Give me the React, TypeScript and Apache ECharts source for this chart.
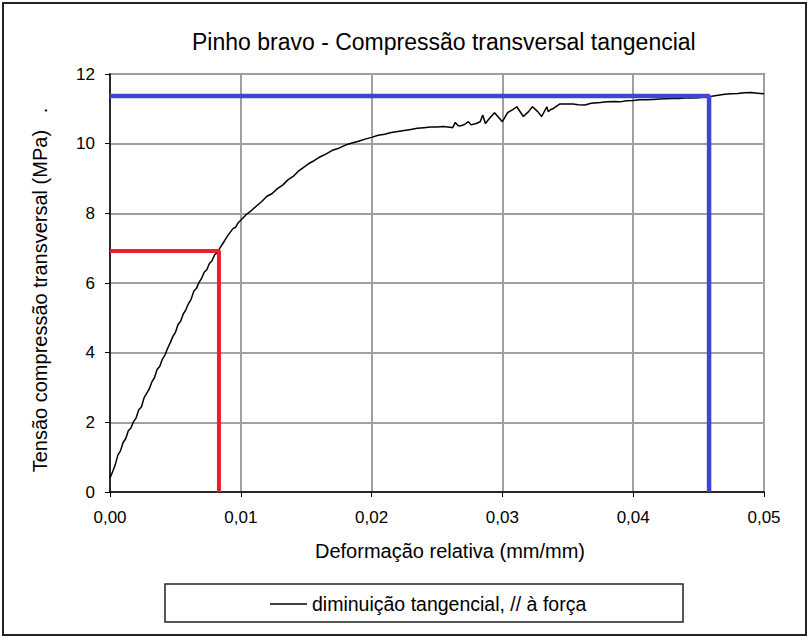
import React, { useEffect, useRef } from "react";
import * as echarts from "echarts";

const strain = [
  0.0, 0.0002, 0.0004, 0.0006, 0.0008, 0.001, 0.0012, 0.0014, 0.0016, 0.0018,
  0.002, 0.0022, 0.0024, 0.0026, 0.0028, 0.003, 0.0032, 0.0034, 0.0036, 0.0038,
  0.004, 0.0042, 0.0044, 0.0046, 0.0048, 0.005, 0.0052, 0.0054, 0.0056, 0.0058,
  0.006, 0.0062, 0.0064, 0.0066, 0.0068, 0.007, 0.0072, 0.0074, 0.0076, 0.0078,
  0.008, 0.0082, 0.0084, 0.0086, 0.0088, 0.009, 0.0092, 0.0094, 0.0096, 0.0098,
  0.01, 0.0104, 0.0108, 0.0112, 0.0116, 0.012, 0.0124, 0.0128, 0.0132, 0.0136,
  0.014, 0.0144, 0.0148, 0.0152, 0.0156, 0.016, 0.0165, 0.017, 0.0175, 0.018,
  0.0185, 0.019, 0.0195, 0.02, 0.0205, 0.021, 0.0215, 0.022, 0.0225, 0.023,
  0.0235, 0.024, 0.0245, 0.025, 0.0255, 0.026, 0.0262, 0.0264, 0.0266, 0.0268,
  0.0271, 0.0274, 0.0276, 0.028, 0.0283, 0.0285, 0.0287, 0.029, 0.0294, 0.0297,
  0.03, 0.0304, 0.0308, 0.0311, 0.0316, 0.032, 0.0323, 0.0327, 0.033, 0.0334,
  0.0335, 0.0337, 0.0339, 0.0344, 0.035, 0.0354, 0.0358, 0.0363, 0.0368, 0.0375,
  0.038, 0.0385, 0.039, 0.0395, 0.04, 0.0405, 0.041, 0.0415, 0.042, 0.0425,
  0.043, 0.0435, 0.044, 0.0445, 0.045, 0.0455, 0.046, 0.0465, 0.047, 0.0475,
  0.048, 0.0485, 0.049, 0.0495, 0.05,
];

const stress = [
  0.4, 0.58, 0.78, 1.06, 1.18, 1.42, 1.53, 1.76, 1.84, 2.02,
  2.13, 2.36, 2.44, 2.7, 2.83, 2.96, 3.16, 3.28, 3.52, 3.6,
  3.81, 3.93, 4.12, 4.28, 4.46, 4.58, 4.81, 4.9, 5.11, 5.23,
  5.41, 5.53, 5.76, 5.84, 6.01, 6.13, 6.31, 6.38, 6.56, 6.64,
  6.81, 6.87, 7.0, 7.12, 7.24, 7.36, 7.46, 7.56, 7.6, 7.73,
  7.8, 7.96, 8.08, 8.21, 8.34, 8.49, 8.57, 8.71, 8.81, 8.96,
  9.06, 9.21, 9.32, 9.43, 9.51, 9.61, 9.7, 9.81, 9.87, 9.96,
  10.02, 10.07, 10.13, 10.18, 10.24, 10.27, 10.32, 10.35, 10.38, 10.41,
  10.44, 10.46, 10.48, 10.48, 10.49, 10.47, 10.46, 10.61, 10.52, 10.51,
  10.55, 10.63, 10.54, 10.58, 10.63, 10.82, 10.58, 10.72, 10.89, 10.76,
  10.63, 10.89, 10.98, 11.06, 10.78, 10.92, 11.06, 10.92, 10.78, 11.06,
  10.92, 10.98, 11.01, 11.14, 11.14, 11.14, 11.12, 11.11, 11.16, 11.18,
  11.2, 11.21, 11.2, 11.23, 11.24, 11.26, 11.26, 11.27, 11.28, 11.29,
  11.3, 11.3, 11.31, 11.31, 11.32, 11.34, 11.36, 11.39, 11.42, 11.43,
  11.44, 11.46, 11.47, 11.45, 11.43,
];

const redX = [0, 0.00833, 0.00833];
const redY = [6.92, 6.92, 0];
const blueX = [0, 0.0458, 0.0458];
const blueY = [11.37, 11.37, 0];

const seriesName = "diminuição tangencial, // à força";
const titleText = "Pinho bravo - Compressão transversal tangencial";
const xName = "Deformação relativa (mm/mm)";
const yName = "Tensão compressão transversal (MPa)   .";

const FONT = "Liberation Sans, Arial, sans-serif";

export default function App() {
  const ref = useRef<HTMLDivElement>(null);
  useEffect(() => {
    if (!ref.current) return;
    const chart = echarts.init(ref.current, undefined, { renderer: "svg" });
    const zip = (xs: number[], ys: number[]) => xs.map((x, i) => [x, ys[i]]);
    chart.setOption({
      animation: false,
      backgroundColor: "#fff",
      textStyle: { fontFamily: FONT },
      title: {
        text: titleText,
        left: 187,
        top: 25,
        textStyle: { fontSize: 23, fontWeight: "normal", color: "#000", fontFamily: FONT },
      },
      grid: { left: 110, right: 47, top: 74, bottom: 150, show: true, borderColor: "#000", borderWidth: 1.5 },
      legend: {
        data: [seriesName],
        left: 265,
        top: 589,
        icon: "rect",
        itemWidth: 37,
        itemHeight: 1.5,
        textStyle: { fontSize: 19.5, color: "#000", fontFamily: FONT },
      },
      graphic: [
        {
          type: "rect",
          shape: { x: 3, y: 3, width: 803, height: 632 },
          style: { fill: "none", stroke: "#222", lineWidth: 2 },
          silent: true,
        },
        {
          type: "rect",
          shape: { x: 165, y: 584, width: 518, height: 38 },
          style: { fill: "none", stroke: "#222", lineWidth: 1.5 },
          silent: true,
        },
      ],
      xAxis: {
        type: "value",
        min: 0,
        max: 0.05,
        interval: 0.01,
        name: xName,
        nameLocation: "middle",
        nameGap: 49,
        nameTextStyle: { fontSize: 20, color: "#000", fontFamily: FONT, padding: [0, 0, 0, 26] },
        axisLine: { lineStyle: { color: "#000", width: 1.5 } },
        axisTick: { show: true, length: 5, lineStyle: { color: "#000" } },
        axisLabel: {
          fontSize: 17,
          color: "#000",
          margin: 17,
          formatter: (v: number) => v.toFixed(2).replace(".", ","),
        },
        splitLine: { show: true, lineStyle: { color: "#a0a0a0", width: 2 } },
      },
      yAxis: {
        type: "value",
        min: 0,
        max: 12,
        interval: 2,
        name: yName,
        nameLocation: "middle",
        nameGap: 60,
        nameTextStyle: { fontSize: 20, color: "#000", fontFamily: FONT, padding: [0, 14, 0, 0] },
        axisLine: { show: true, lineStyle: { color: "#000", width: 1.5 } },
        axisTick: { show: true, length: 5, lineStyle: { color: "#000" } },
        axisLabel: { fontSize: 17, color: "#000", margin: 15 },
        splitLine: { show: true, lineStyle: { color: "#a0a0a0", width: 2 } },
      },
      series: [
        {
          name: seriesName,
          type: "line",
          data: zip(strain, stress),
          showSymbol: false,
          symbol: "none",
          lineStyle: { color: "#000", width: 1.5 },
          itemStyle: { color: "#000" },
          z: 3,
        },
        {
          name: "red",
          type: "line",
          data: zip(redX, redY),
          showSymbol: false,
          symbol: "none",
          lineStyle: { color: "#e8202a", width: 4 },
          z: 4,
        },
        {
          name: "blue",
          type: "line",
          data: zip(blueX, blueY),
          showSymbol: false,
          symbol: "none",
          lineStyle: { color: "#3f48cc", width: 4.5 },
          z: 4,
        },
      ],
    });
    return () => chart.dispose();
  }, []);
  return <div ref={ref} style={{ width: 811, height: 642, position: "absolute", left: 0, top: 0 }} />;
}
